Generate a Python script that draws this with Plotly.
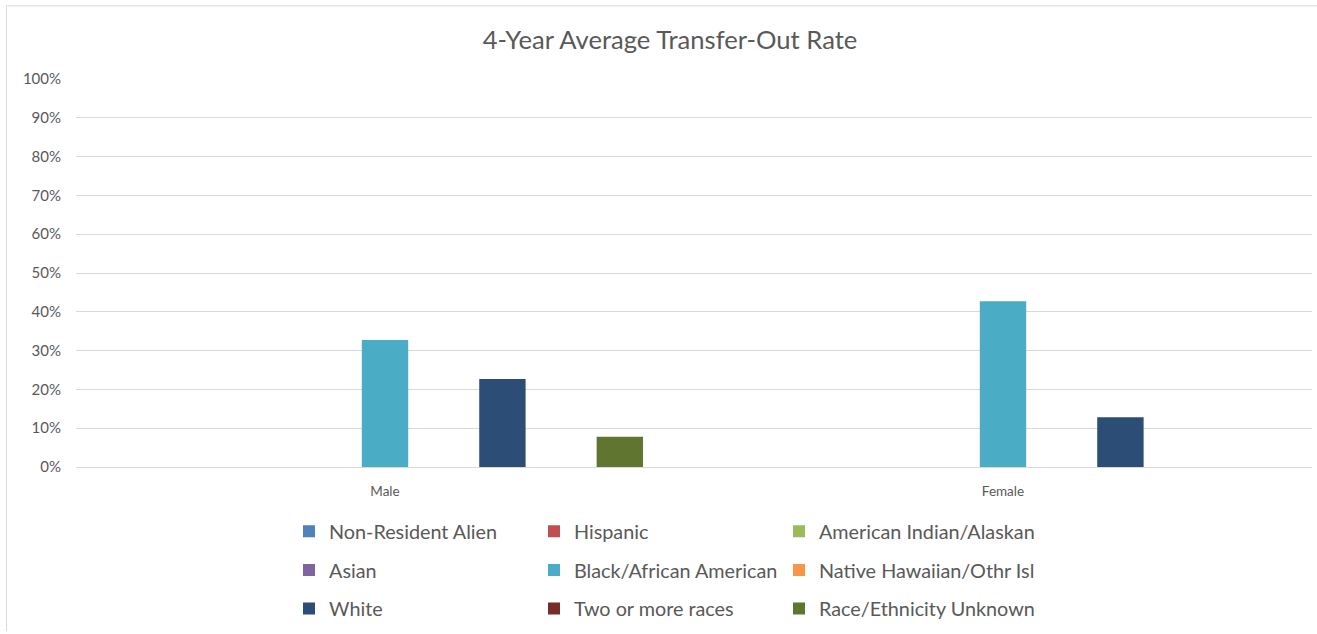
import plotly.graph_objects as go

categories = ["Male", "Female"]
series_names = [
    "Non-Resident Alien", "Hispanic", "American Indian/Alaskan",
    "Asian", "Black/African American", "Native Hawaiian/Othr Isl",
    "White", "Two or more races", "Race/Ethnicity Unknown",
]
non_resident_alien = [0, 0]
hispanic = [0, 0]
american_indian = [0, 0]
asian = [0, 0]
black = [0.327, 0.427]
native_hawaiian = [0, 0]
white = [0.227, 0.128]
two_or_more = [0, 0]
unknown = [0.078, 0]

values = [non_resident_alien, hispanic, american_indian, asian, black,
          native_hawaiian, white, two_or_more, unknown]
colors = ["#4F81BD", "#C0504D", "#9BBB59", "#8064A2", "#4BACC6",
          "#F79646", "#2C4D75", "#772C2A", "#5F7530"]
legend_ids = ["legend", "legend2", "legend3"]

FONT = "Lato, 'Open Sans', sans-serif"
TXT = "#595959"

W, H = 1317, 634
ML, MR, MT, MB = 76, 5, 79, 165
PW = W - ML - MR
PH = H - MT - MB

def px_x(x):
    return (x - ML) / PW

def px_y(y):
    return (H - MB - y) / PH

fig = go.Figure()
for i, (name, vals, col) in enumerate(zip(series_names, values, colors)):
    fig.add_trace(go.Bar(
        x=categories, y=vals, name=name,
        marker=dict(color=col, line=dict(width=0)),
        legend=legend_ids[i % 3],
        legendgroup=f"g{i}",
    ))

leg_common = dict(
    orientation="v", xanchor="left", yanchor="top",
    font=dict(family=FONT, size=19.8, color=TXT),
    bgcolor="rgba(0,0,0,0)", tracegroupgap=10, itemwidth=30,
)
leg_top = px_y(514)
col_swatch = [309, 554, 799]

border = dict(color="#D9D9D9", width=1)

fig.update_layout(
    width=W, height=H,
    margin=dict(l=ML, r=MR, t=MT, b=MB),
    paper_bgcolor="white", plot_bgcolor="white",
    barmode="group", bargap=0.145, bargroupgap=0.21,
    title=dict(
        text="4-Year Average Transfer-Out Rate",
        font=dict(family=FONT, size=25.6, color=TXT),
        x=px_x(670), xref="paper", xanchor="center",
        y=1 - 40 / H, yref="container", yanchor="middle",
    ),
    xaxis=dict(
        showgrid=False, showline=False, zeroline=False,
        tickfont=dict(family=FONT, size=13.5, color=TXT),
        ticklabelstandoff=14,
    ),
    yaxis=dict(
        range=[0, 1], dtick=0.1, tickformat=".0%",
        showgrid=True, gridcolor="#D9D9D9", gridwidth=1,
        zeroline=True, zerolinecolor="#D9D9D9", zerolinewidth=1,
        showline=False,
        tickfont=dict(family=FONT, size=15, color=TXT),
        ticklabelstandoff=14,
    ),
    legend=dict(x=px_x(col_swatch[0] - 20), y=leg_top, **leg_common),
    legend2=dict(x=px_x(col_swatch[1] - 20), y=leg_top, **leg_common),
    legend3=dict(x=px_x(col_swatch[2] - 20), y=leg_top, **leg_common),
    shapes=[
        dict(type="line", xref="paper", yref="paper",
             x0=px_x(6.5), x1=px_x(W), y0=px_y(5.5), y1=px_y(5.5),
             line=border, layer="below"),
        dict(type="line", xref="paper", yref="paper",
             x0=px_x(6.5), x1=px_x(6.5), y0=px_y(5.5), y1=px_y(H),
             line=border, layer="below"),
    ],
)

fig.write_html("out.html", config={"displayModeBar": False},
               post_script="document.body.style.margin='0';")
